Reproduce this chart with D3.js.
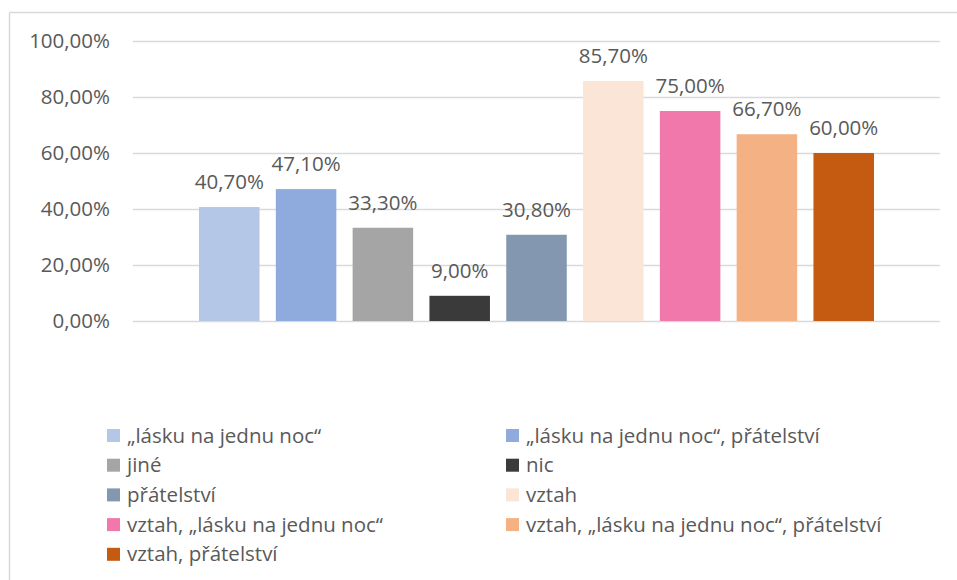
<!DOCTYPE html>
<html>
<head>
<meta charset="utf-8">
<script src="https://cdn.jsdelivr.net/npm/d3@7"></script>
<style>
  html, body { margin: 0; padding: 0; background: #fff; }
  svg { display: block; }
  text { font-family: "Open Sans", "Noto Sans", sans-serif; fill: #595959; }
</style>
</head>
<body>
<svg id="chart" width="957" height="580"></svg>
<script>
// Answer categories (one bar each) and their shares in percent
const seriesNames = [
  "„lásku na jednu noc“",
  "„lásku na jednu noc“, přátelství",
  "jiné",
  "nic",
  "přátelství",
  "vztah",
  "vztah, „lásku na jednu noc“",
  "vztah, „lásku na jednu noc“, přátelství",
  "vztah, přátelství"
];
const seriesValues = [40.7, 47.1, 33.3, 9.0, 30.8, 85.7, 75.0, 66.7, 60.0];
const seriesColors = ["#b4c7e7", "#8faadc", "#a5a5a5", "#3a3a3a", "#8497b0",
                      "#fbe5d6", "#f178aa", "#f4b183", "#c55a11"];
const yTicks = [0, 20, 40, 60, 80, 100];

const fmt = v => v.toFixed(2).replace(".", ",") + "%";

const svg = d3.select("#chart");

// chart frame (left and top edges visible)
svg.append("line").attr("x1", 9.5).attr("x2", 9.5).attr("y1", 12.5).attr("y2", 580)
  .attr("stroke", "#d9d9d9").attr("stroke-width", 1.5);
svg.append("line").attr("x1", 9.5).attr("x2", 957).attr("y1", 12.5).attr("y2", 12.5)
  .attr("stroke", "#d9d9d9").attr("stroke-width", 1.5);

const plot = { left: 133, right: 940, top: 41, bottom: 321 };

const y = d3.scaleLinear().domain([0, 100]).range([plot.bottom, plot.top]);

// one category group, bars laid out inside it
const xGroup = d3.scaleBand().domain(["all"]).range([plot.left, plot.right])
  .paddingInner(0).paddingOuter(0.0978);
const x = d3.scaleBand().domain(seriesNames)
  .range([xGroup("all"), xGroup("all") + xGroup.bandwidth()])
  .paddingInner(0.212).paddingOuter(0);

// gridlines
svg.append("g").selectAll("line").data(yTicks).join("line")
  .attr("x1", plot.left).attr("x2", plot.right)
  .attr("y1", d => Math.round(y(d)) + 0.5).attr("y2", d => Math.round(y(d)) + 0.5)
  .attr("stroke", "#d9d9d9").attr("stroke-width", 1.3);

// y axis labels
const yAxis = d3.axisLeft(y).tickValues(yTicks).tickFormat(fmt).tickSize(0).tickPadding(0);
const gy = svg.append("g").attr("transform", `translate(110,0)`).call(yAxis);
gy.select(".domain").remove();
gy.selectAll("text").attr("font-size", 20.5).attr("font-family", null).attr("fill", "#595959");

// bars
svg.append("g").selectAll("rect").data(seriesNames).join("rect")
  .attr("x", d => x(d))
  .attr("width", x.bandwidth())
  .attr("y", (d, i) => y(seriesValues[i]))
  .attr("height", (d, i) => y(0) - y(seriesValues[i]))
  .attr("fill", (d, i) => seriesColors[i]);

// value labels
svg.append("g").selectAll("text").data(seriesNames).join("text")
  .attr("x", d => x(d) + x.bandwidth() / 2)
  .attr("y", (d, i) => y(seriesValues[i]) - 18)
  .attr("text-anchor", "middle")
  .attr("font-size", 20.5)
  .text((d, i) => fmt(seriesValues[i]));

// legend: two columns
const legend = svg.append("g");
const colX = [107, 506];
const rowY0 = 435.5, rowStep = 29.7;
const items = legend.selectAll("g").data(seriesNames).join("g")
  .attr("transform", (d, i) => `translate(${colX[i % 2]},${rowY0 + Math.floor(i / 2) * rowStep})`);
items.append("rect").attr("x", 0).attr("y", -6.5).attr("width", 13).attr("height", 13)
  .attr("fill", (d, i) => seriesColors[i]);
items.append("text").attr("x", 20).attr("y", 0).attr("dy", "0.35em")
  .attr("font-size", 20.5).text(d => d);
</script>
</body>
</html>
